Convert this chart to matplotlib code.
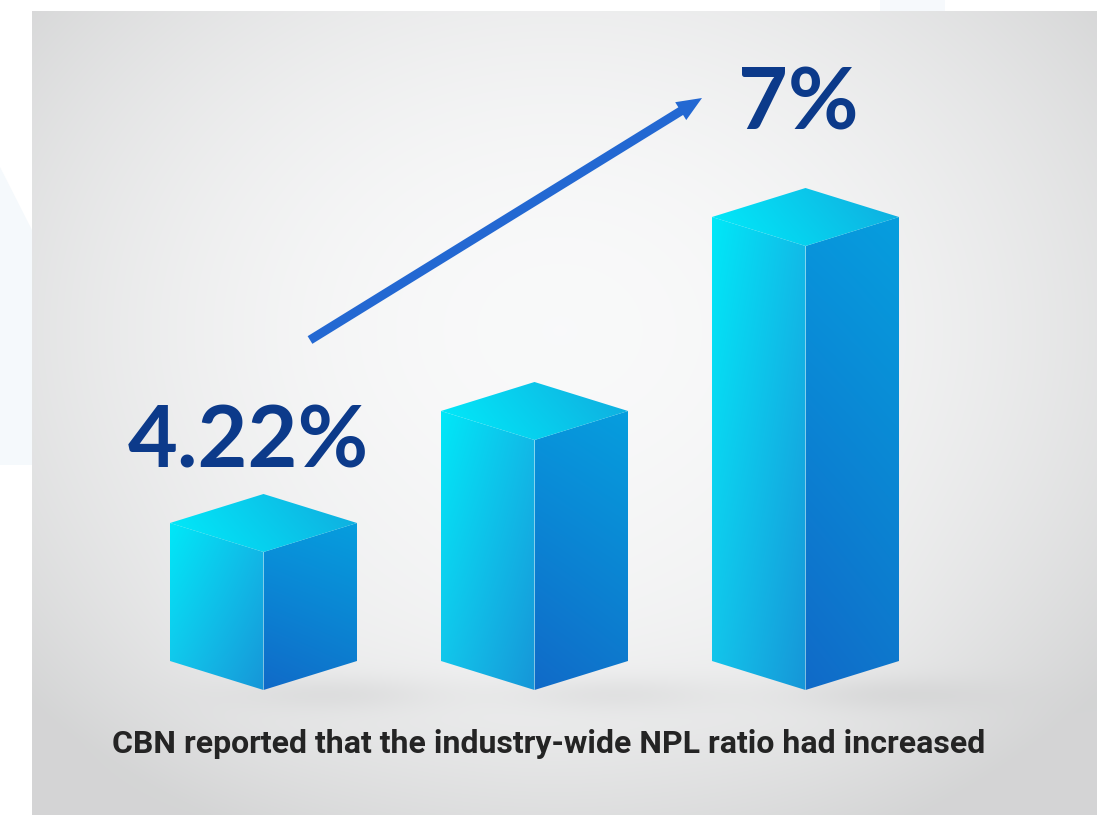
import numpy as np
import matplotlib
matplotlib.use("Agg")
import matplotlib.pyplot as plt
from matplotlib.patches import Polygon

# ---------------- data ----------------
categories = ["Earlier", "Middle", "Latest"]
bar_heights = [138, 250, 444]          # drawn heights of the bars (picture units)
value_labels = ["4.22%", "", "7%"]
caption = "CBN reported that the industry-wide NPL ratio had increased"

# ---------------- layout ----------------
W, H = 1097, 815
fig = plt.figure(figsize=(W / 100, H / 100), dpi=100)
ax = fig.add_axes([0, 0, 1, 1])
ax.axis("off")

x_first, x_step = 263.5, 271.0
half_w, depth = 93.5, 29.0
base = 125.0
centers = [x_first + i * x_step for i in range(len(categories))]

# white page + faint blue shapes
fig.patch.set_facecolor("white")
ax.add_patch(Polygon([(0, H - 167), (32, H - 230), (32, H - 465), (0, H - 465)],
                     closed=True, fc="#f5f9fc", ec="none", zorder=0))
ax.add_patch(Polygon([(880, H), (945, H), (945, H - 11), (880, H - 11)],
                     closed=True, fc="#f6f9fc", ec="none", zorder=0))

# ---------------- background panel ----------------
px0, py0 = 32, 11
xs = np.arange(px0, W) + 0.5
ys = np.arange(py0, H) + 0.5
X, Y = np.meshgrid(xs, ys)
d2 = ((X - 560) / 600.0) ** 2 + ((Y - 330) / 480.0) ** 2
g = np.clip(249 - 27 * d2, 212, 250) / 255.0
bg = np.dstack([g, g + 0.002, g + 0.004])
for cx in centers:
    sh = np.exp(-(((X - (cx + 75)) / 105.0) ** 2 + ((Y - (H - base + 4)) / 18.0) ** 2))
    bg -= 0.045 * sh[..., None]
    glow = np.exp(-(((X - cx) / 150.0) ** 2 + ((Y - (H - base - 40)) / 120.0) ** 2))
    bg += 0.015 * glow[..., None]
bg = np.clip(bg, 0, 1)
ax.imshow(bg, extent=(px0, W, 0, H - py0), origin="upper", zorder=1,
          interpolation="bilinear")


def shade(poly_pts, tl, tr, bl, br, z):
    pts = np.array(poly_pts)
    xmin, ymin = pts.min(axis=0)
    xmax, ymax = pts.max(axis=0)
    u = np.linspace(0, 1, 80)[None, :, None]
    v = np.linspace(0, 1, 80)[:, None, None]
    tl, tr, bl, br = [np.array(c, float)[None, None, :] / 255.0 for c in (tl, tr, bl, br)]
    img = (1 - v) * (1 - u) * tl + (1 - v) * u * tr + v * (1 - u) * bl + v * u * br
    patch = Polygon(pts, closed=True, fc="none", ec="none", transform=ax.transData)
    ax.add_patch(patch)
    im = ax.imshow(img, extent=(xmin, xmax, ymin, ymax), origin="upper",
                   interpolation="bilinear", zorder=z)
    im.set_clip_path(patch)


for cx, h in zip(centers, bar_heights):
    top = base + h
    left = [(cx - half_w, base + depth), (cx, base), (cx, top), (cx - half_w, top + depth)]
    right = [(cx, base), (cx + half_w, base + depth), (cx + half_w, top + depth), (cx, top)]
    lid = [(cx, top), (cx + half_w, top + depth), (cx, top + 2 * depth), (cx - half_w, top + depth)]
    shade(left, (0, 232, 248), (18, 188, 232), (20, 195, 234), (22, 150, 216), 3)
    shade(right, (8, 150, 220), (6, 158, 222), (16, 106, 200), (14, 118, 204), 3)
    shade(lid, (4, 226, 246), (18, 170, 222), (0, 236, 250), (12, 184, 228), 3)

# ---------------- arrow ----------------
ax.arrow(310, H - 340, 702 - 310, (H - 98) - (H - 340), width=9, head_width=21,
         head_length=25, length_includes_head=True, fc="#2368d2", ec="none", zorder=5)

# ---------------- texts ----------------
label_pos = {0: (128, H - 467), 2: (738, H - 130)}
for i, lab in enumerate(value_labels):
    if lab:
        x, y = label_pos[i]
        ax.text(x, y, lab, fontsize=62, fontweight="bold", family=["Lato", "DejaVu Sans"],
                color="#0c3a8a", ha="left", va="baseline", zorder=6)

ax.text(549, H - 753, caption, fontsize=23, fontweight="bold",
        family=["Roboto", "DejaVu Sans"], color="#242424",
        ha="center", va="baseline", zorder=6)

ax.set_xlim(0, W)
ax.set_ylim(0, H)
fig.savefig("out.png", dpi=100, facecolor="white")
